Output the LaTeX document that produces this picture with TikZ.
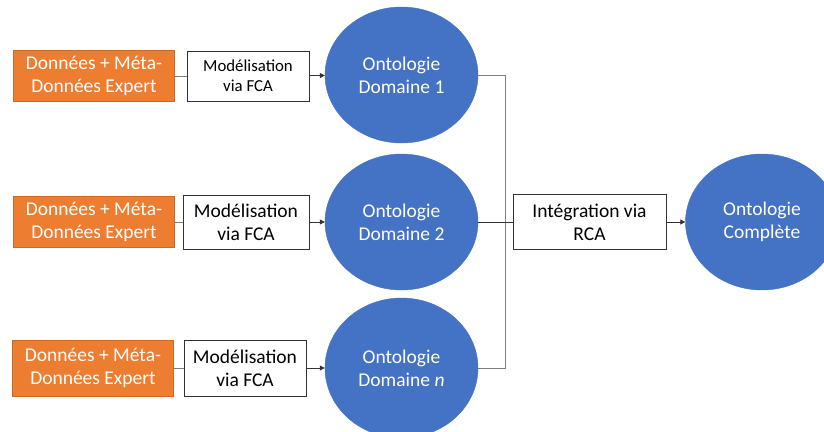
\documentclass[tikz,border=0pt]{standalone}
\usepackage{fontspec}
\setmainfont{Carlito}
\usetikzlibrary{arrows.meta,shapes.geometric}
\definecolor{orangeB}{HTML}{ED7D31}
\definecolor{blueB}{HTML}{4472C4}
\definecolor{grayL}{HTML}{7F7F7F}
\begin{document}
\begin{tikzpicture}[x=1pt,y=-1pt,
  src/.style={fill=orangeB,draw=orangeB!85!black,line width=0.6pt,minimum width=161pt,minimum height=51pt,text=white,align=center,inner sep=0pt,font=\fontsize{19.5}{23}\selectfont},
  proc/.style={fill=white,draw=black!80,line width=0.8pt,align=center,inner sep=0pt,font=\fontsize{19.5}{23}\selectfont},
  onto/.style={ellipse,fill=blueB,draw=blueB,minimum width=153pt,minimum height=136pt,text=white,align=center,inner sep=0pt,font=\fontsize{19.5}{23}\selectfont},
  link/.style={draw=grayL,line width=0.8pt},
  arr/.style={draw=black!80,line width=0.8pt,-{Triangle[length=5pt,width=5pt]}}
]
\useasboundingbox (0,0) rectangle (824,431);
% row 1
\node[src] (s1) at (94,76) {Données + Méta-\\Données Expert};
\node[proc,minimum width=122pt,minimum height=50pt,font=\fontsize{16.8}{20}\selectfont] (p1) at (248,76) {Modélisation\\via FCA};
\node[onto] (o1) at (401.5,75) {Ontologie\\Domaine 1};
% row 2
\node[src] (s2) at (94,222) {Données + Méta-\\Données Expert};
\node[proc,minimum width=126pt,minimum height=54pt] (p2) at (246,222) {Modélisation\\via FCA};
\node[onto] (o2) at (401.5,222) {Ontologie\\Domaine 2};
% row 3
\node[src,minimum height=56pt] (s3) at (93,368) {Données + Méta-\\Données Expert};
\node[proc,minimum width=122pt,minimum height=56pt] (p3) at (245,368) {Modélisation\\via FCA};
\node[onto,minimum height=140pt] (o3) at (401.5,368) {Ontologie\\Domaine \textit{n}};
% integration
\node[proc,minimum width=153pt,minimum height=55pt] (rca) at (589.5,222) {Intégration via\\RCA};
\node[onto] (oc) at (762,222) {Ontologie\\Complète};
\coordinate (j1) at (505,75);
\coordinate (j3) at (505,368);
% connectors
\foreach \i in {1,2,3}{
  \draw[link] (s\i) -- (p\i);
  \draw[arr] (p\i) -- (o\i);
}
\draw[link] (o1.east) -- (j1) -- (j3) -- (o3.east);
\draw[draw=black!80,line width=0.8pt] (o2.east) -- (rca.west);
\draw[arr] (rca) -- (oc);
\end{tikzpicture}
\end{document}
